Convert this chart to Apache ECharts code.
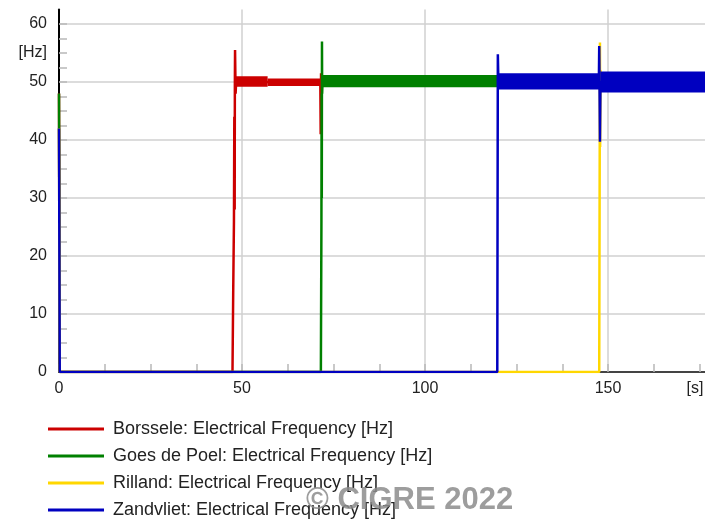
<!DOCTYPE html>
<html>
<head>
<meta charset="utf-8">
<script src="https://cdn.jsdelivr.net/npm/echarts@6/dist/echarts.min.js"></script>
<style>
  html, body { margin: 0; padding: 0; background: #fff; }
  #chart { width: 705px; height: 520px; }
</style>
</head>
<body>
<div id="chart"></div>
<script>
// Electrical frequency at four substations during sequential energisation.

// Main traces: time [s] and frequency [Hz]
const borsseleTime = [0, 0.2, 47.4, 47.6, 47.8, 47.9, 48.0, 48.05, 48.1, 48.25, 48.4, 71.4, 71.5, 71.6, 71.7, 176.5];
const borsseleHz   = [48, 0, 0, 14, 26, 44, 28, 50, 55.5, 48, 50, 50, 41, 51.5, 50, 50];

const goesTime = [0, 0.2, 71.55, 71.7, 71.75, 71.8, 71.85, 71.9, 72.0, 176.5];
const goesHz   = [48, 0, 0, 26, 48, 30, 57, 48, 50, 50];

const rillandTime = [0, 0.2, 147.6, 147.8, 147.85, 147.95, 148.1, 176.5];
const rillandHz   = [42, 0, 0, 56.8, 38.8, 52, 50, 50];

const zandvlietTime = [0, 0.2, 119.75, 119.9, 120.05, 147.5, 147.6, 147.7, 147.8, 147.95, 176.5];
const zandvlietHz   = [42, 0, 0, 54.8, 50, 50, 56.2, 48, 39.7, 50, 50];

// Oscillation envelopes: [start s, end s, lower Hz, upper Hz]
const borsseleBand  = [[48.3, 57, 49.2, 51.0], [57, 176.5, 49.3, 50.6]];
const goesBand      = [[71.9, 176.5, 49.1, 51.2]];
const rillandBand   = [[148.0, 176.5, 48.4, 51.6]];
const zandvlietBand = [[120.0, 147.6, 48.7, 51.5], [147.9, 176.5, 48.2, 51.8]];

const seriesNames = [
  'Borssele: Electrical Frequency [Hz]',
  'Goes de Poel: Electrical Frequency [Hz]',
  'Rilland: Electrical Frequency [Hz]',
  'Zandvliet: Electrical Frequency [Hz]'
];
const seriesColors = ['#cc0000', '#008000', '#ffd700', '#0000c0'];

const xTickLabels = { 0: '0', 50: '50', 100: '100', 150: '150', 175: '{unit|[s]}' };
const yTickLabels = { 0: '0', 10: '10', 20: '20', 30: '30', 40: '40', 50: '50', 55: '[Hz]', 60: '60' };

const traces = [
  [borsseleTime, borsseleHz, borsseleBand],
  [goesTime, goesHz, goesBand],
  [rillandTime, rillandHz, rillandBand],
  [zandvlietTime, zandvlietHz, zandvlietBand]
];

const FONT = '"Liberation Sans", Arial, sans-serif';
const clear = 'rgba(0,0,0,0)';
const gridColor = '#d0d0d0';

const series = [];
traces.forEach(function (tr, i) {
  const color = seriesColors[i];
  // filled envelope of the fast oscillation
  series.push({
    name: seriesNames[i],
    type: 'custom',
    coordinateSystem: 'cartesian2d',
    clip: true,
    silent: true,
    z: 10 + 2 * i,
    data: tr[2],
    encode: { x: [0, 1], y: [2, 3] },
    renderItem: function (params, api) {
      const p1 = api.coord([api.value(0), api.value(3)]);
      const p2 = api.coord([api.value(1), api.value(2)]);
      return {
        type: 'rect',
        shape: { x: p1[0], y: p1[1], width: p2[0] - p1[0], height: p2[1] - p1[1] },
        style: { fill: color }
      };
    }
  });
  // main trace
  series.push({
    name: seriesNames[i],
    type: 'line',
    z: 11 + 2 * i,
    data: tr[0].map(function (t, k) { return [t, tr[1][k]]; }),
    showSymbol: false,
    symbol: 'none',
    color: color,
    lineStyle: { color: color, width: 2.5 },
    clip: true
  });
});

const chart = echarts.init(document.getElementById('chart'), null, { renderer: 'canvas' });
chart.setOption({
  animation: false,
  backgroundColor: '#fff',
  color: seriesColors,
  grid: { left: 59, right: 0, top: 9.5, bottom: 148, containLabel: false, outerBoundsMode: 'none' },
  xAxis: {
    type: 'value',
    min: 0,
    max: 176.5,
    interval: 12.5,
    axisLine: { show: true, onZero: false, lineStyle: { color: '#444', width: 2 } },
    axisTick: { show: true, inside: true, length: 8, lineStyle: { color: '#b8b8b8', width: 1.5 } },
    axisLabel: {
      show: true, margin: 9, color: '#222', fontSize: 16, fontFamily: FONT,
      showMaxLabel: false,
      rich: { unit: { color: '#222', fontSize: 16, fontFamily: FONT, padding: [0, 9, 0, 0] } },
      formatter: function (v) { return xTickLabels[v] !== undefined ? xTickLabels[v] : ''; }
    },
    splitLine: { show: true, lineStyle: { color: [gridColor, clear, clear, clear], width: 1.5 } }
  },
  yAxis: {
    type: 'value',
    min: 0,
    max: 62.5,
    interval: 2.5,
    axisLine: { show: true, onZero: false, lineStyle: { color: '#000', width: 2 } },
    axisTick: { show: true, inside: true, length: 8, lineStyle: { color: '#b8b8b8', width: 1.5 } },
    axisLabel: {
      show: true, margin: 12, color: '#222', fontSize: 16, fontFamily: FONT,
      showMaxLabel: false,
      formatter: function (v) { return yTickLabels[v] !== undefined ? yTickLabels[v] : ''; }
    },
    splitLine: { show: true, showMaxLine: false, lineStyle: { color: [gridColor, clear, clear, clear], width: 1.5 } }
  },
  legend: {
    orient: 'vertical',
    left: 48,
    top: 420,
    padding: 0,
    itemGap: 9,
    itemWidth: 56,
    itemHeight: 3,
    icon: 'rect',
    data: seriesNames.map(function (n, i) { return { name: n, itemStyle: { color: seriesColors[i] } }; }),
    textStyle: { color: '#222', fontSize: 18, fontFamily: FONT, padding: [0, 0, 0, 4] },
    selectedMode: false
  },
  graphic: [{
    type: 'text',
    left: 306,
    top: 485,
    z: 100,
    style: {
      text: '\u00a9 CIGRE 2022',
      font: 'bold 31px "Liberation Sans", Arial, sans-serif',
      fill: 'rgba(140,140,140,0.85)'
    }
  }],
  series: series
});
</script>
</body>
</html>
